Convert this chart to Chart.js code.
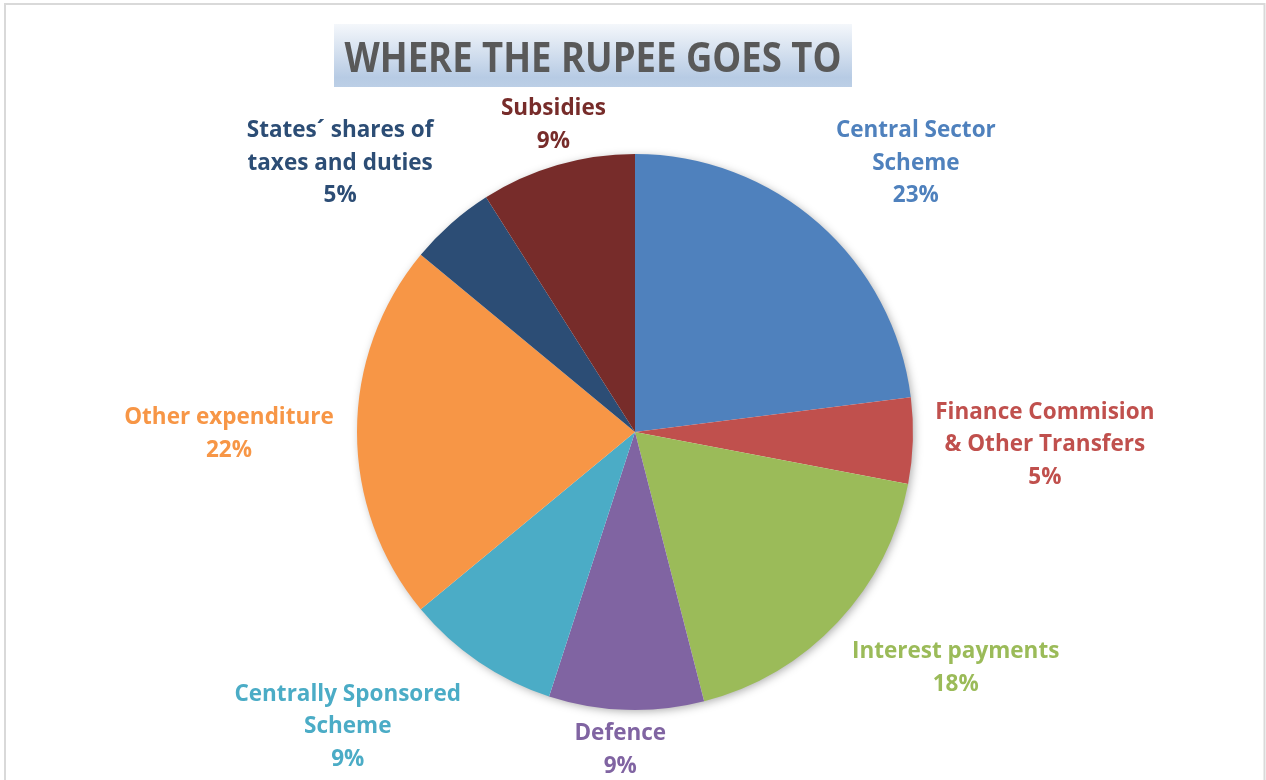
<!DOCTYPE html>
<html>
<head>
<meta charset="utf-8">
<script src="https://cdn.jsdelivr.net/npm/chart.js@4.4.1/dist/chart.umd.min.js"></script>
<style>
  html, body { margin: 0; padding: 0; background: #fff; }
  #wrap { width: 1266px; height: 780px; position: relative; }
</style>
</head>
<body>
<div id="wrap"><canvas id="rupee-pie"></canvas></div>
<script>
// spending heads, clockwise from 12 o'clock
const categories = [
  ["Central Sector", "Scheme"],
  ["Finance Commision", "& Other Transfers"],
  ["Interest payments"],
  ["Defence"],
  ["Centrally Sponsored", "Scheme"],
  ["Other expenditure"],
  ["States\u00b4 shares of", "taxes and duties"],
  ["Subsidies"],
];
const shares = [23, 5, 18, 9, 9, 22, 5, 9];
const sliceColors = [
  "#4F81BD", "#C0504D", "#9BBB59", "#8064A2",
  "#4BACC6", "#F79646", "#2C4D75", "#772C2A",
];
const chartTitle = "WHERE THE RUPEE GOES TO";

// where each label block sits, relative to the outer midpoint of its slice
const labelNudge = [
  [97, -60], [132, 4], [118, 46], [-6, 40],
  [-131, 65], [-128, 2], [-111, -60], [-4, -40],
];

const LABEL_FONT = "bold 22.5px 'Open Sans', Lato, sans-serif";
const LINE_GAP = 32.5;

const framePlugin = {
  id: "frame",
  beforeDraw(chart) {
    const ctx = chart.ctx;
    ctx.save();
    ctx.fillStyle = "#fff";
    ctx.fillRect(0, 0, chart.width, chart.height);
    ctx.strokeStyle = "#D9D9D9";
    ctx.lineWidth = 2;
    ctx.strokeRect(5, 4, 1259.5, chart.height + 20);
    ctx.restore();
  },
};

const titlePlugin = {
  id: "boxTitle",
  afterDraw(chart) {
    const ctx = chart.ctx;
    const x0 = 334, y0 = 24, w = 518, h = 63;
    ctx.save();
    const grad = ctx.createLinearGradient(0, y0, 0, y0 + h);
    grad.addColorStop(0, "#F4F7FB");
    grad.addColorStop(0.85, "#B7CBE4");
    grad.addColorStop(1, "#BCCFE6");
    ctx.fillStyle = grad;
    ctx.fillRect(x0, y0, w, h);
    ctx.fillStyle = "#595959";
    ctx.font = "bold 42px 'Open Sans', Lato, sans-serif";
    ctx.textAlign = "center";
    ctx.textBaseline = "alphabetic";
    // squeeze to the narrower face the heading was set in
    ctx.fillText(chartTitle, x0 + w / 2, 72, 497);
    ctx.restore();
  },
};

// soft drop shadow behind the pie
const shadowPlugin = {
  id: "pieShadow",
  beforeDatasetsDraw(chart) {
    const arc = chart.getDatasetMeta(0).data[0];
    if (!arc) return;
    const { x, y, outerRadius } = arc.getProps(["x", "y", "outerRadius"], true);
    const ctx = chart.ctx;
    ctx.save();
    ctx.shadowColor = "rgba(0,0,0,0.35)";
    ctx.shadowBlur = 10;
    ctx.shadowOffsetX = 2;
    ctx.shadowOffsetY = 2;
    ctx.fillStyle = "#fff";
    ctx.beginPath();
    ctx.arc(x, y, outerRadius - 1, 0, Math.PI * 2);
    ctx.fill();
    ctx.restore();
  },
};

const sliceLabels = {
  id: "sliceLabels",
  afterDatasetsDraw(chart) {
    const ctx = chart.ctx;
    const meta = chart.getDatasetMeta(0);
    ctx.save();
    ctx.font = LABEL_FONT;
    ctx.textAlign = "center";
    ctx.textBaseline = "middle";
    meta.data.forEach((arc, i) => {
      const p = arc.getProps(["x", "y", "startAngle", "endAngle", "outerRadius"], true);
      const mid = (p.startAngle + p.endAngle) / 2;
      const ax = p.x + Math.cos(mid) * p.outerRadius + labelNudge[i][0];
      const ay = p.y + Math.sin(mid) * p.outerRadius + labelNudge[i][1];
      const lines = categories[i].concat([shares[i] + "%"]);
      const top = ay - ((lines.length - 1) * LINE_GAP) / 2;
      ctx.fillStyle = sliceColors[i];
      lines.forEach((t, j) => ctx.fillText(t, ax, top + j * LINE_GAP));
    });
    ctx.restore();
  },
};

new Chart("rupee-pie", {
  type: "pie",
  data: {
    labels: categories.map((c) => c.join(" ")),
    datasets: [
      {
        data: shares,
        backgroundColor: sliceColors,
        borderWidth: 0,
      },
    ],
  },
  plugins: [framePlugin, shadowPlugin, sliceLabels, titlePlugin],
  options: {
    responsive: true,
    maintainAspectRatio: false,
    animation: false,
    layout: {
      padding: { left: 357, right: 353, top: 154, bottom: 70 },
    },
    plugins: {
      legend: { display: false },
      tooltip: { enabled: false },
      title: { display: false },
    },
  },
});
</script>
</body>
</html>
